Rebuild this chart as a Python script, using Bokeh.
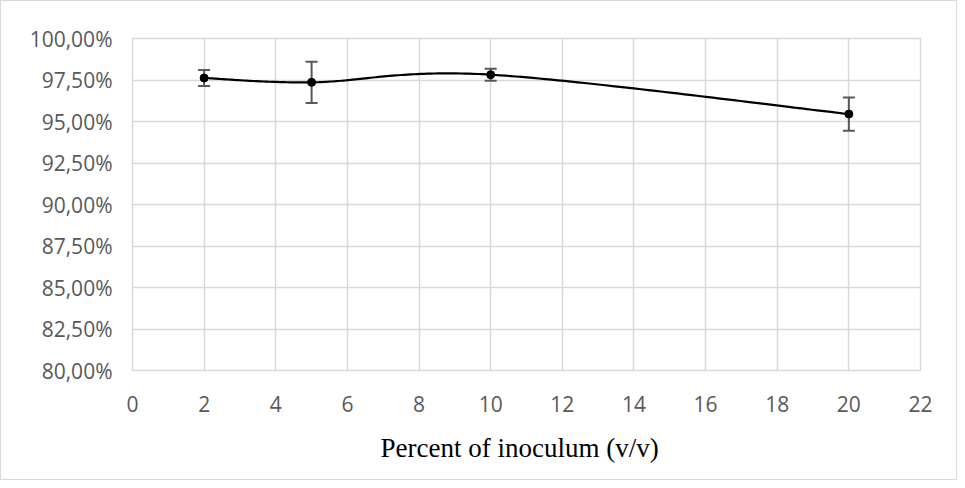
import numpy as np
from bokeh.plotting import figure
from bokeh.models import ColumnDataSource, Whisker, FixedTicker, TeeHead, Title
from bokeh.embed import file_html
from bokeh.resources import INLINE

# ---- data ----
x_vals = [2, 5, 10, 20]
y_vals = [97.62, 97.36, 97.82, 95.45]
y_err = [0.48, 1.24, 0.36, 1.00]

x_ticks = [0, 2, 4, 6, 8, 10, 12, 14, 16, 18, 20, 22]
y_ticks = [80.0, 82.5, 85.0, 87.5, 90.0, 92.5, 95.0, 97.5, 100.0]
y_tick_labels = ["80,00%", "82,50%", "85,00%", "87,50%", "90,00%",
                 "92,50%", "95,00%", "97,50%", "100,00%"]
x_title = "Percent of inoculum (v/v)"


def smooth_curve(xs, ys, n=60):
    """Bezier smoothing through the points (Catmull-Rom style control points)."""
    pts = np.column_stack([xs, ys]).astype(float)
    out = []
    for i in range(len(pts) - 1):
        p0 = pts[i - 1] if i > 0 else pts[i]
        p1 = pts[i]
        p2 = pts[i + 1]
        p3 = pts[i + 2] if i + 2 < len(pts) else pts[i + 1]
        c1 = p1 + (p2 - p0) / 6.0
        c2 = p2 - (p3 - p1) / 6.0
        t = np.linspace(0, 1, n)[:, None]
        seg = ((1 - t) ** 3) * p1 + 3 * ((1 - t) ** 2) * t * c1 + 3 * (1 - t) * t ** 2 * c2 + t ** 3 * p2
        out.append(seg if i == 0 else seg[1:])
    out = np.vstack(out)
    return out[:, 0], out[:, 1]


cx, cy = smooth_curve(x_vals, y_vals)

src = ColumnDataSource(dict(
    x=x_vals, y=y_vals,
    upper=[v + e for v, e in zip(y_vals, y_err)],
    lower=[v - e for v, e in zip(y_vals, y_err)],
))

p = figure(
    output_backend="svg", toolbar_location=None,
    frame_width=788, frame_height=332,
    min_border_left=131, min_border_top=37, min_border_right=36, min_border_bottom=109,
    x_range=(0, 22), y_range=(80, 100),
    background_fill_color="white", border_fill_color="white",
)
p.styles = {"border": "1px solid #d9d9d9"}
p.outline_line_color = "#d9d9d9"
p.outline_line_width = 1.5

for g in (p.xgrid, p.ygrid):
    g.grid_line_color = "#d9d9d9"
    g.grid_line_width = 1.5
p.xgrid.ticker = FixedTicker(ticks=x_ticks)
p.ygrid.ticker = FixedTicker(ticks=y_ticks)

p.xaxis.ticker = FixedTicker(ticks=x_ticks)
p.yaxis.ticker = FixedTicker(ticks=y_ticks)
p.yaxis.major_label_overrides = {t: l for t, l in zip(y_ticks, y_tick_labels)}

for ax in (p.xaxis, p.yaxis):
    ax.axis_line_color = None
    ax.major_tick_line_color = None
    ax.minor_tick_line_color = None
    ax.major_label_text_font = "Open Sans"
    ax.major_label_text_font_size = "21px"
    ax.major_label_text_color = "#595959"
p.yaxis.major_label_standoff = 14
p.xaxis.major_label_standoff = 19

# x-axis title (Excel centres it on the chart area, slightly left of the plot centre)
xt = Title(text=x_title, align="left", offset=248,
           text_font="Liberation Serif", text_font_style="normal",
           text_font_size="27px", text_color="black", standoff=33)
p.add_layout(xt, "below")

whisker = Whisker(source=src, base="x", upper="upper", lower="lower",
                  line_color="#595959", line_width=2, level="underlay")
whisker.upper_head = TeeHead(size=12, line_color="#595959", line_width=2)
whisker.lower_head = TeeHead(size=12, line_color="#595959", line_width=2)
p.add_layout(whisker)

p.line(cx, cy, line_color="black", line_width=2.2)
p.scatter("x", "y", source=src, size=8, color="black")

open("out.html", "w").write(file_html(p, INLINE))
